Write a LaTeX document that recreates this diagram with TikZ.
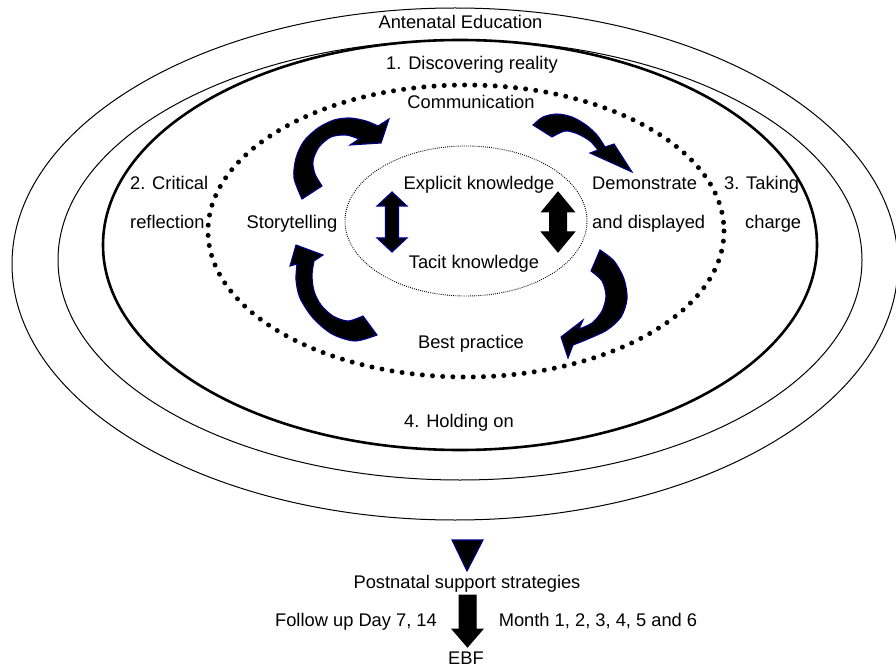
\documentclass[tikz,border=0pt]{standalone}
\usepackage{fontspec}
\setmainfont{Liberation Sans}
\begin{document}
\begin{tikzpicture}[x=1pt,y=-1pt,
  lbl/.style={inner sep=0pt, text height=13pt, text depth=0pt, font=\fontsize{18.3}{20}\selectfont},
  thinring/.style={draw=black, line width=1pt},
  thickring/.style={draw=black, line width=2.6pt},
  dotring/.style={draw=black, line width=5pt, line cap=round, dash pattern=on 0pt off 10.2pt},
  fineDots/.style={draw=black, line width=0.9pt, dash pattern=on 0.9pt off 1.2pt},
  bluearrow/.style={fill=black, draw=blue!55!black, line width=1.1pt, line join=miter},
  blackarrow/.style={fill=black, draw=black, line width=1pt}]
\useasboundingbox (0,0) rectangle (896,668);
\clip (0,0) rectangle (896,668);
% rings
\draw[thinring] (455,264) ellipse [x radius=443, y radius=256];
\draw[thinring] (460,260) ellipse [x radius=402, y radius=220];
\draw[thickring] (460,245) ellipse [x radius=357, y radius=205];
\draw[dotring] (466,231) ellipse [x radius=258, y radius=146];
\draw[fineDots] (466,221) ellipse [x radius=121, y radius=75];
% texts
\node[lbl] (ante) at (460.5,22) {Antenatal Education};
\node[lbl] (disc) at (472,63) {1. Discovering reality};
\node[lbl] (comm) at (471,102) {Communication};
\node[lbl] (expl) at (479,183) {Explicit knowledge};
\node[lbl] (taci) at (474,262) {Tacit knowledge};
\node[lbl] (story) at (292,222) {Storytelling};
\node[lbl,anchor=west] (demo) at (592,183) {Demonstrate};
\node[lbl,anchor=west] (disp) at (592,222) {and displayed};
\node[lbl,anchor=west] (crit) at (130,183) {2. Critical};
\node[lbl,anchor=west] (refl) at (130,222) {reflection};
\node[lbl,anchor=west] (take) at (724,183) {3. Taking};
\node[lbl,anchor=west] (charge) at (745,222) {charge};
\node[lbl] (best) at (471,342) {Best practice};
\node[lbl] (hold) at (459,421) {4. Holding on};
\node[lbl] (post) at (467,582) {Postnatal support strategies};
\node[lbl] (follow) at (356,620) {Follow up Day 7, 14};
\node[lbl] (month) at (598,620) {Month 1, 2, 3, 4, 5 and 6};
\node[lbl] (ebf) at (466,658) {EBF};
% curved arrows
\filldraw[bluearrow] (302,199) -- plot[smooth] coordinates {(302,199) (294,178) (296,158) (304,141) (318,128) (334,120) (350,118) (366,121) (378,126)}
  -- (389,119) -- (381,143) -- (350,145) -- (359,139)
  -- plot[smooth] coordinates {(359,139) (346,135) (331,137) (319,147) (313,161) (315,174) (322,186)} -- cycle;
\filldraw[bluearrow] (533,125) -- plot[smooth] coordinates {(533,125) (543,117) (557,114) (572,117) (586,125) (597,135) (605,147)}
  -- (614,144) -- (632,172) -- (590,153) -- (598,150)
  -- plot[smooth] coordinates {(598,150) (590,141) (578,134) (565,131) (552,137)} -- cycle;
\filldraw[bluearrow] (600,250) -- plot[smooth] coordinates {(600,250) (614,261) (624,279) (627,299) (621,317) (607,330) (588,339) (573,345)}
  -- (568,358) -- (561,337) -- (583,320) -- (579,329)
  -- plot[smooth] coordinates {(579,329) (592,323) (602,311) (606,296) (602,281) (591,271)} -- cycle;
\filldraw[bluearrow] (377,335) -- plot[smooth] coordinates {(377,335) (355,341) (332,334) (313,318) (300,298) (296,280) (297,264)}
  -- (290,266) -- (296,245) -- (323,255) -- (314,261)
  -- plot[smooth] coordinates {(314,261) (312,275) (314,291) (321,305) (333,316) (348,321) (363,316)} -- cycle;
% straight double arrows
\filldraw[bluearrow] (385.5,206) -- (377,206) -- (392,192) -- (407,206) -- (398.5,206) -- (398.5,238) -- (407,238) -- (392,252) -- (377,238) -- (385.5,238) -- cycle;
\filldraw[blackarrow] (549.5,212) -- (541.5,212) -- (558,192) -- (574.5,212) -- (566.5,212) -- (566.5,232) -- (574.5,232) -- (558,252) -- (541.5,232) -- (549.5,232) -- cycle;
% bottom
\filldraw[bluearrow] (452,540) -- (483,540) -- (467,571) -- cycle;
\filldraw[blackarrow] (459,595) -- (476,595) -- (476,629) -- (483,629) -- (467.5,647) -- (452,629) -- (459,629) -- cycle;
\end{tikzpicture}
\end{document}
